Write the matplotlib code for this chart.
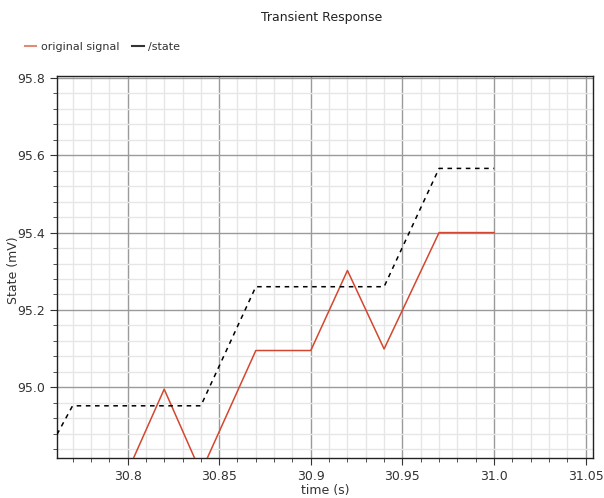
import matplotlib.pyplot as plt
from matplotlib.ticker import MultipleLocator, FixedLocator
from matplotlib.lines import Line2D

# data
sig_t = [30.80, 30.82, 30.84, 30.87, 30.90, 30.92, 30.94, 30.97, 31.00]
sig_v = [94.782, 94.995, 94.78, 95.095, 95.095, 95.302, 95.099, 95.40, 95.40]

state_t = [30.7615, 30.77, 30.84, 30.87, 30.94, 30.97, 31.00]
state_v = [94.878, 94.952, 94.952, 95.26, 95.26, 95.566, 95.566]

xticks = [30.8, 30.85, 30.9, 30.95, 31.0, 31.05]
xtick_labels = ["30.8", "30.85", "30.9", "30.95", "31.0", "31.05"]
yticks = [95.0, 95.2, 95.4, 95.6, 95.8]
ytick_labels = ["95.0", "95.2", "95.4", "95.6", "95.8"]

red = "#d4472f"

fig = plt.figure(figsize=(6.04, 4.98), dpi=100)
ax = fig.add_axes([57 / 604, 1 - 458 / 498, (593 - 57) / 604, (458 - 76) / 498])

ax.plot(sig_t, sig_v, color=red, lw=1.1, zorder=3)
ax.plot(state_t, state_v, color="black", lw=1.1, ls=(0, (3, 3)), zorder=3)

ax.set_xlim(30.7615, 31.054)
ax.set_ylim(94.817, 95.805)

ax.xaxis.set_major_locator(FixedLocator(xticks))
ax.set_xticklabels(xtick_labels)
ax.xaxis.set_minor_locator(MultipleLocator(0.01))
ax.yaxis.set_major_locator(FixedLocator(yticks))
ax.set_yticklabels(ytick_labels)
ax.yaxis.set_minor_locator(MultipleLocator(0.04))

ax.grid(which="major", color="#9a9a9a", lw=1.0, zorder=1)
ax.grid(which="minor", color="#e6e6e6", lw=1.0, zorder=0)
ax.set_axisbelow(True)

ax.tick_params(which="both", direction="out", colors="#333333", labelsize=9,
               top=False, right=False)
ax.tick_params(which="major", length=5)
ax.tick_params(which="minor", length=3)
for s in ax.spines.values():
    s.set_color("#222222")
    s.set_linewidth(1.0)

ax.set_xlabel("time (s)", fontsize=9, color="#333333", labelpad=1)
fig.text(14 / 604, 1 - 270 / 498, "State (mV)", rotation=90, ha="center",
         va="center", fontsize=9, color="#333333")

fig.text(322 / 604, 1 - 17 / 498, "Transient Response", ha="center", va="center",
         fontsize=9, color="#222222")

handles = [Line2D([], [], color="#e08a78", lw=1.5),
           Line2D([], [], color="#333333", lw=1.5)]
fig.legend(handles, ["original signal", "/state"], loc="center left",
           bbox_to_anchor=(15 / 604, 1 - 47 / 498), ncol=2, frameon=False,
           fontsize=8, handlelength=1.0, handletextpad=0.4, columnspacing=1.2,
           labelcolor="#333333")

fig.savefig("out.png", dpi=100)
